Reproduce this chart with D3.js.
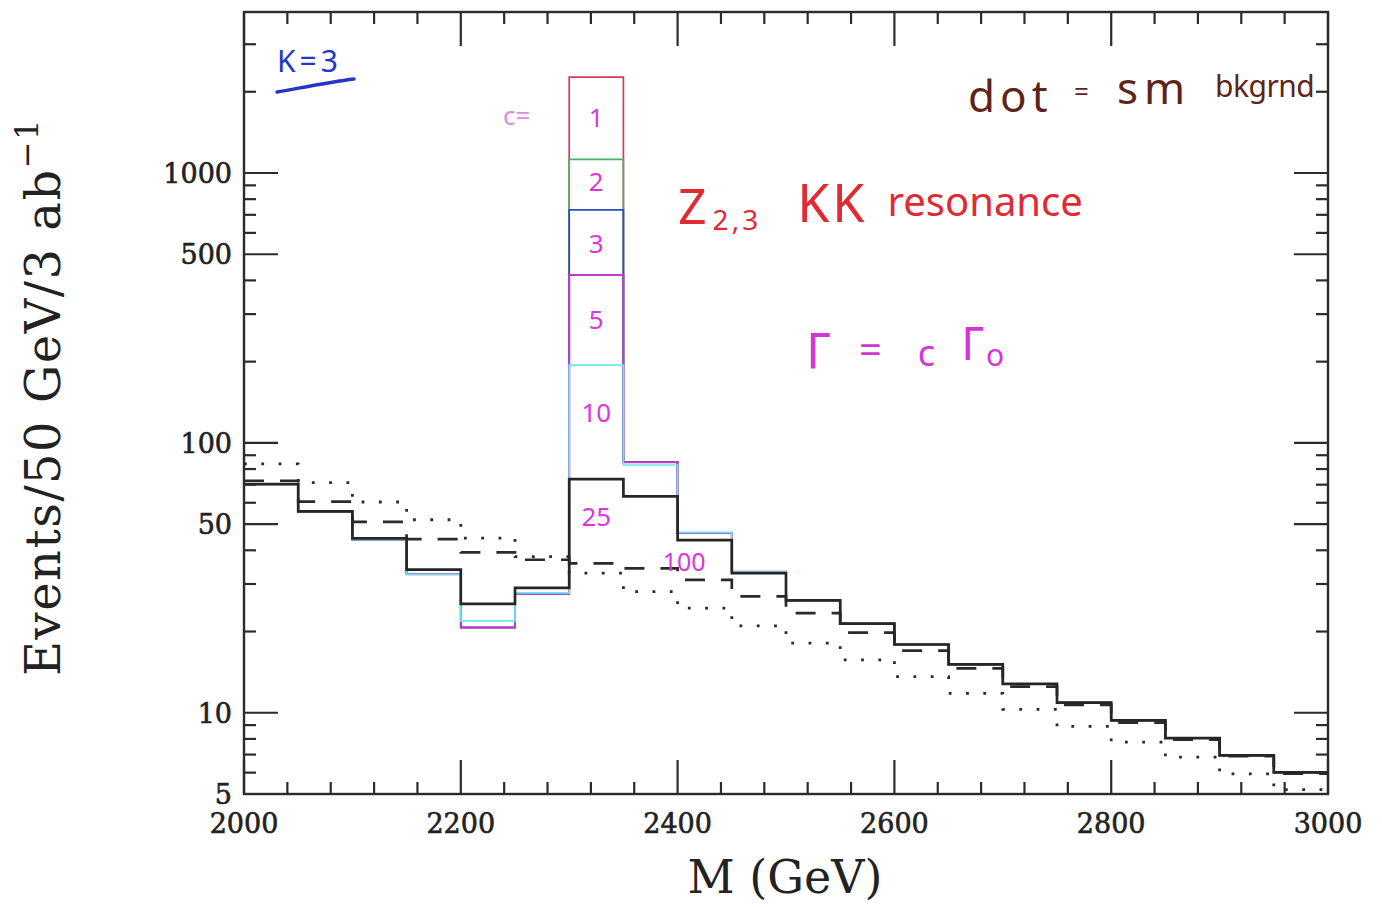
<!DOCTYPE html>
<html>
<head>
<meta charset="utf-8">
<script src="https://cdn.jsdelivr.net/npm/d3@7/dist/d3.min.js"></script>
<style>
  html, body { margin: 0; padding: 0; background: #fff; }
  svg { display: block; }
</style>
</head>
<body>
<svg id="chart" width="1382" height="907"></svg>
<script>
// 50 GeV mass bins (lower edges), last bin closes at 3000 GeV
const binLow = [2000, 2050, 2100, 2150, 2200, 2250, 2300, 2350, 2400, 2450,
                2500, 2550, 2600, 2650, 2700, 2750, 2800, 2850, 2900, 2950];
const binEnd = 3000;

// SM background (dotted)
const smBackground = [83.6, 71.3, 60.4, 51.9, 44.4, 37.9, 32.9, 28.1, 24.4, 21.0,
                      18.1, 15.7, 13.6, 11.8, 10.3, 8.9, 7.79, 6.85, 5.94, 5.19];
// Gamma = 100 Gamma_0 (dashed)
const widthC100 = [72.4, 60.6, 51.0, 44.0, 39.3, 36.9, 35.8, 34.3, 31.1, 27.0,
                   23.4, 19.8, 17.0, 14.6, 12.5, 10.7, 9.2, 7.95, 6.9, 5.95];
// Gamma = 25 Gamma_0 (solid black)
const widthC25 = [70.3, 55.7, 44.3, 33.9, 25.3, 29.0, 73.4, 63.4, 43.6, 32.9,
                  26.1, 21.4, 17.9, 15.1, 12.8, 10.9, 9.37, 8.06, 6.95, 6.01];
// Gamma = 10 Gamma_0
const widthC10 = [70.3, 55.7, 43.8, 32.6, 21.9, 27.8, 194, 82.8, 46.6, 33.3,
                  26.1, 21.4, 17.9, 15.1, 12.8, 10.9, 9.37, 8.06, 6.95, 6.01];
// Gamma = 5 Gamma_0
const widthC5 = [70.3, 55.7, 43.8, 32.6, 20.7, 27.6, 419, 84.8, 46.3, 33.3,
                 26.1, 21.4, 17.9, 15.1, 12.8, 10.9, 9.37, 8.06, 6.95, 6.01];
// Gamma = 3 Gamma_0
const widthC3 = [70.3, 55.7, 43.8, 32.6, 20.7, 27.6, 730, 84.8, 46.3, 33.3,
                 26.1, 21.4, 17.9, 15.1, 12.8, 10.9, 9.37, 8.06, 6.95, 6.01];
// Gamma = 2 Gamma_0
const widthC2 = [70.3, 55.7, 43.8, 32.6, 20.7, 27.6, 1124, 84.8, 46.3, 33.3,
                 26.1, 21.4, 17.9, 15.1, 12.8, 10.9, 9.37, 8.06, 6.95, 6.01];
// Gamma = Gamma_0
const widthC1 = [70.3, 55.7, 43.8, 32.6, 20.7, 27.6, 2265, 84.8, 46.3, 33.3,
                 26.1, 21.4, 17.9, 15.1, 12.8, 10.9, 9.37, 8.06, 6.95, 6.01];

const xMajorTicks = [2000, 2200, 2400, 2600, 2800, 3000];
const xMinorStep = 40;
const yLabelTicks = [5, 10, 50, 100, 500, 1000];
const yDomain = [5, 3950];

const svg = d3.select("#chart");
const plotLeft = 244, plotRight = 1328, plotTop = 12, plotBottom = 794;

const x = d3.scaleLinear().domain([binLow[0], binEnd]).range([plotLeft, plotRight]);
const y = d3.scaleLog().domain(yDomain).range([plotBottom, plotTop]);

const frameColor = "#2b2b2b";

// clip region for the histograms
svg.append("clipPath").attr("id", "plotClip")
  .append("rect").attr("x", plotLeft).attr("y", plotTop)
  .attr("width", plotRight - plotLeft).attr("height", plotBottom - plotTop);

// turn a list of bin contents into step-histogram points
function steps(values) {
  const pts = binLow.map((b, i) => [b, values[i]]);
  pts.push([binEnd, values[values.length - 1]]);
  return pts;
}
const stepLine = d3.line()
  .x(d => x(d[0]))
  .y(d => y(d[1]))
  .curve(d3.curveStepAfter);

const plot = svg.append("g").attr("clip-path", "url(#plotClip)");

const series = [
  { data: widthC1,  color: "#d8385a", width: 1.7, dash: null },
  { data: widthC2,  color: "#3fb864", width: 1.7, dash: null },
  { data: widthC3,  color: "#2a4fc2", width: 1.7, dash: null },
  { data: widthC5,  color: "#c03cc8", width: 1.9, dash: null },
  { data: widthC10, color: "#6ee6f2", width: 1.7, dash: null },
  { data: smBackground, color: "#2a2a2a", width: 2.8, dash: "2.8,14.5" },
  { data: widthC100, color: "#2a2a2a", width: 2.7, dash: "20,16" },
  { data: widthC25, color: "#262626", width: 2.7, dash: null }
];

plot.selectAll("path.hist")
  .data(series)
  .enter().append("path")
  .attr("class", "hist")
  .attr("d", d => stepLine(steps(d.data)))
  .attr("fill", "none")
  .attr("stroke", d => d.color)
  .attr("stroke-width", d => d.width)
  .attr("stroke-dasharray", d => d.dash)
  .attr("stroke-linejoin", "miter");

// ---- axes: ticks on all four sides ----
const majorLen = 34, minorLen = 12;
const xMinorTicks = d3.range(binLow[0], binEnd + 1, xMinorStep)
  .filter(v => !xMajorTicks.includes(v));

const yMinorTicks = [];
[1, 10, 100, 1000].forEach(dec => {
  for (let k = 1; k <= 9; k++) {
    const v = k * dec;
    if (v >= yDomain[0] && v <= yDomain[1] && !yLabelTicks.includes(v)) yMinorTicks.push(v);
  }
});

const axes = svg.append("g").attr("stroke", frameColor).attr("stroke-width", 2.2);

function xTick(v, len) {
  axes.append("line").attr("x1", x(v)).attr("x2", x(v))
    .attr("y1", plotBottom).attr("y2", plotBottom - len);
  axes.append("line").attr("x1", x(v)).attr("x2", x(v))
    .attr("y1", plotTop).attr("y2", plotTop + len);
}
function yTick(v, len) {
  axes.append("line").attr("x1", plotLeft).attr("x2", plotLeft + len)
    .attr("y1", y(v)).attr("y2", y(v));
  axes.append("line").attr("x1", plotRight).attr("x2", plotRight - len)
    .attr("y1", y(v)).attr("y2", y(v));
}
xMajorTicks.forEach(v => xTick(v, majorLen));
xMinorTicks.forEach(v => xTick(v, minorLen));
yLabelTicks.forEach(v => yTick(v, majorLen));
yMinorTicks.forEach(v => yTick(v, minorLen));

axes.append("rect")
  .attr("x", plotLeft).attr("y", plotTop)
  .attr("width", plotRight - plotLeft).attr("height", plotBottom - plotTop)
  .attr("fill", "none").attr("stroke-width", 2.4);

const serif = "'DejaVu Serif', 'Liberation Serif', serif";

svg.append("g").selectAll("text")
  .data(xMajorTicks).enter().append("text")
  .attr("x", d => x(d)).attr("y", plotBottom + 39)
  .attr("text-anchor", "middle")
  .attr("font-family", serif).attr("font-size", 27)
  .attr("fill", "#222").attr("stroke", "#222").attr("stroke-width", 0.6)
  .text(d => d);

svg.append("g").selectAll("text")
  .data(yLabelTicks).enter().append("text")
  .attr("x", plotLeft - 12).attr("y", d => y(d) + 10)
  .attr("text-anchor", "end")
  .attr("font-family", serif).attr("font-size", 27)
  .attr("fill", "#222").attr("stroke", "#222").attr("stroke-width", 0.6)
  .text(d => d);

// axis titles
svg.append("text")
  .attr("x", (plotLeft + plotRight) / 2 - 1).attr("y", 893)
  .attr("text-anchor", "middle")
  .attr("font-family", serif).attr("font-size", 46)
  .attr("fill", "#222")
  .text("M (GeV)");

const yTitle = svg.append("text")
  .attr("transform", "translate(60,676) rotate(-90)")
  .attr("text-anchor", "start")
  .attr("font-family", serif).attr("font-size", 48)
  .attr("letter-spacing", 1.5)
  .attr("fill", "#222");
yTitle.append("tspan").text("Events/50 GeV/3 ab");
yTitle.append("tspan").attr("dy", -22).attr("font-size", 32).text("\u22121");

// ---- hand-written style annotations ----
const hand = "'Noto Sans', 'DejaVu Sans', sans-serif";

svg.append("text").attr("x", 277).attr("y", 72)
  .attr("font-family", hand).attr("font-size", 30).attr("letter-spacing", 4)
  .attr("fill", "#2436c8")
  .text("K=3");
svg.append("path")
  .attr("d", "M277,92 C300,88 330,82 354,79")
  .attr("fill", "none").attr("stroke", "#2436c8").attr("stroke-width", 3.4)
  .attr("stroke-linecap", "round");

// "dot = sm bkgrnd" note, pieces placed one by one
const brown = "#5e2418";
const dotNote = svg.append("g").attr("font-family", hand).attr("fill", brown);
dotNote.append("text").attr("x", 968).attr("y", 112)
  .attr("font-size", 44).attr("letter-spacing", 5).text("dot");
dotNote.append("text").attr("x", 1074).attr("y", 101)
  .attr("font-size", 26).text("=");
dotNote.append("text").attr("x", 1117).attr("y", 104)
  .attr("font-size", 44).attr("letter-spacing", 6).text("sm");
dotNote.append("text").attr("x", 1215).attr("y", 97)
  .attr("font-size", 30).attr("letter-spacing", -0.5).text("bkgrnd");

const zNote = svg.append("text").attr("x", 678).attr("y", 224)
  .attr("font-family", hand).attr("fill", "#e12a33");
zNote.append("tspan").attr("font-size", 50).attr("letter-spacing", 3).text("Z");
zNote.append("tspan").attr("font-size", 28).attr("dx", 3).attr("dy", 6).attr("letter-spacing", 3).text("2,3");
zNote.append("tspan").attr("font-size", 52).attr("dx", 36).attr("dy", -8).attr("letter-spacing", 3).text("KK");
zNote.append("tspan").attr("font-size", 40).attr("dx", 20).attr("dy", -6).text("resonance");

const gNote = svg.append("text").attr("x", 806).attr("y", 368)
  .attr("font-family", hand).attr("fill", "#d535d5");
gNote.append("tspan").attr("font-size", 50).text("\u0393");
gNote.append("tspan").attr("font-size", 40).attr("dx", 28).attr("dy", -4).text("=");
gNote.append("tspan").attr("font-size", 36).attr("dx", 36).attr("dy", 2).text("c");
gNote.append("tspan").attr("font-size", 46).attr("dx", 26).attr("dy", -6).text("\u0393");
gNote.append("tspan").attr("font-size", 30).attr("dx", 2).attr("dy", 6).text("o");

svg.append("text").attr("x", 503).attr("y", 125)
  .attr("font-family", hand).attr("font-size", 26).attr("fill", "#e08ae0")
  .text("c=");

// width-factor labels stacked in the resonance bin
const peakLabels = [
  { t: "1", v: 1600 }, { t: "2", v: 927 }, { t: "3", v: 546 },
  { t: "5", v: 286 }, { t: "10", v: 129 }, { t: "25", v: 53 }
];
svg.append("g").selectAll("text").data(peakLabels).enter().append("text")
  .attr("x", x(2325)).attr("y", d => y(d.v) + 9)
  .attr("text-anchor", "middle")
  .attr("font-family", hand).attr("font-size", 26).attr("fill", "#dd36dd")
  .text(d => d.t);
svg.append("text").attr("x", x(2406)).attr("y", y(36.2) + 9)
  .attr("text-anchor", "middle")
  .attr("font-family", hand).attr("font-size", 25).attr("fill", "#dd36dd")
  .text("100");
</script>
</body>
</html>
